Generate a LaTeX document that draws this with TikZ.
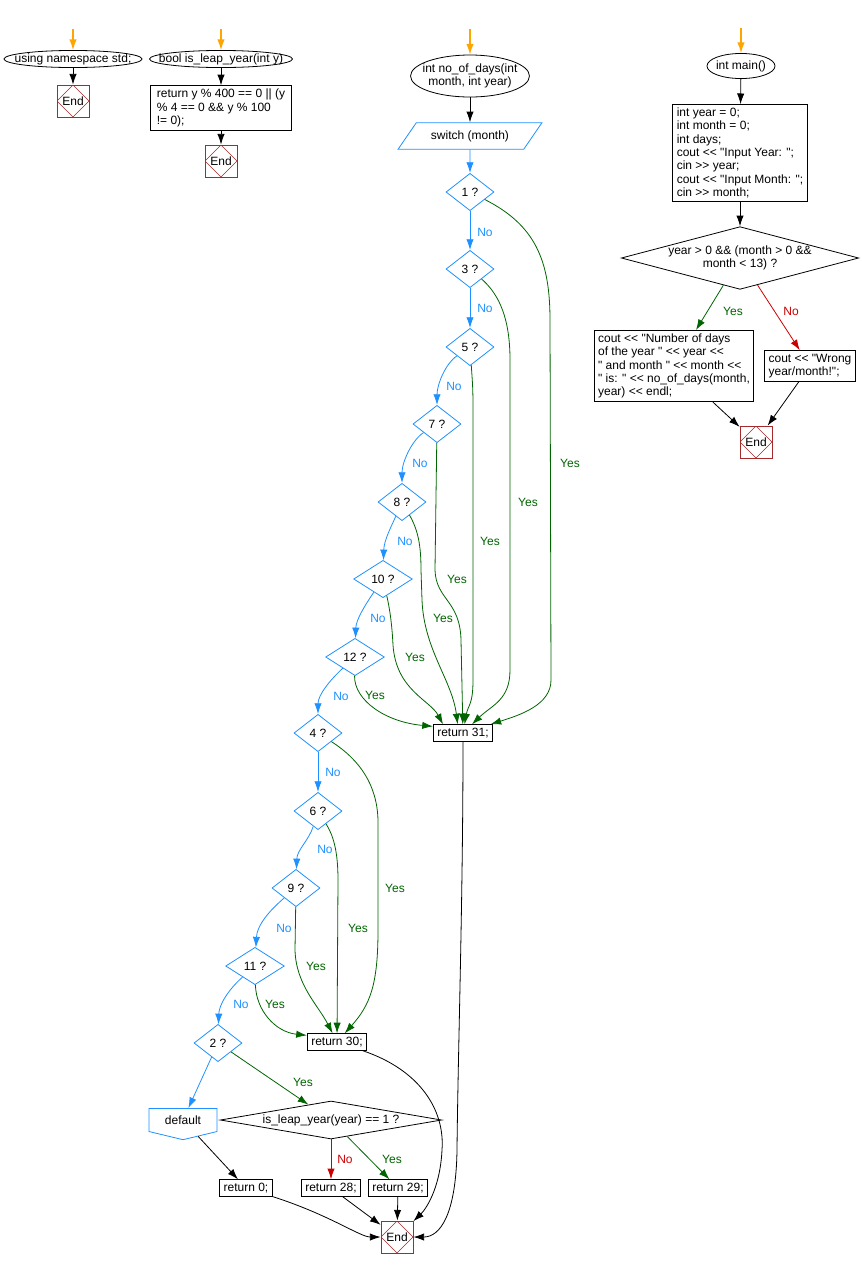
\documentclass[tikz,border=0pt]{standalone}
\usepackage{fontspec}
\setmainfont{Liberation Sans}[Ligatures=TeXOff]
\usetikzlibrary{arrows.meta,shapes.geometric,shapes.symbols}

\definecolor{noblue}{HTML}{1E90FF}
\definecolor{yesgreen}{HTML}{006400}
\definecolor{nored}{HTML}{CC0000}
\definecolor{startorange}{HTML}{FFA500}
\definecolor{endred}{HTML}{A52A2A}

\begin{document}
\begin{tikzpicture}[x=0.75pt, y=-0.75pt, line width=0.6pt,
  every node/.style={font=\fontsize{9}{10}\selectfont, inner sep=2pt},
  fn/.style={align=center},
  stmt/.style={draw, align=left, inner xsep=3pt, inner ysep=2.5pt},
  dec/.style={draw=noblue, diamond, inner sep=0pt, minimum width=36pt, minimum height=28pt},
  decwide/.style={dec, minimum width=44pt},
  cond/.style={draw, diamond, inner sep=0pt, align=center},
  endbox/.style={draw=endred, minimum size=24pt, inner sep=0pt,
    path picture={\draw[endred, line width=0.4pt] (path picture bounding box.north)
      -- (path picture bounding box.east) -- (path picture bounding box.south)
      -- (path picture bounding box.west) -- cycle;}},
  arr/.style={-{Latex[length=8pt, width=5.5pt]}},
  startarr/.style={arr, startorange, line width=0.9pt},
  noarr/.style={arr, noblue},
  yesarr/.style={arr, yesgreen},
  falsearr/.style={arr, nored},
  nolbl/.style={text=noblue, inner sep=0pt},
  yeslbl/.style={text=yesgreen, inner sep=0pt},
  falselbl/.style={text=nored, inner sep=0pt}]

  \useasboundingbox (0,0) rectangle (861,1268);

  % using namespace
  \node[fn, minimum height=12.75pt] (usingns) at (73,59) {using namespace std;};
  \draw (usingns.center) ellipse [x radius=51.75pt, y radius=6.4pt];
  \node[endbox] (end1) at (73,101) {End};

  % is_leap_year
  \node[fn, minimum height=12.75pt] (leapfn) at (221,59) {bool is\_leap\_year(int y)};
  \draw (leapfn.center) ellipse [x radius=53.6pt, y radius=6.4pt];
  \node[stmt, minimum width=106pt] (leapbody) at (221,108)
    {return y \% 400 == 0 || (y\\\% 4 == 0 \&\& y \% 100\\!= 0);};
  \node[endbox] (end2) at (221,161) {End};

  % no_of_days
  \node[fn, minimum height=31.5pt] (daysfn) at (470,76) {int no\_of\_days(int\\month, int year)};
  \draw (daysfn.center) ellipse [x radius=44.6pt, y radius=15.75pt];
  \node[draw=noblue, trapezium, trapezium left angle=42, trapezium right angle=138,
    trapezium stretches body, minimum height=20pt, minimum width=108pt] (switch) at (470,136) {switch (month)};

  \node[dec] (d1) at (470,192) {1 ?};
  \node[dec] (d3) at (470,269) {3 ?};
  \node[dec] (d5) at (470,347) {5 ?};
  \node[dec] (d7) at (437,424) {7 ?};
  \node[dec] (d8) at (402,502) {8 ?};
  \node[decwide] (d10) at (383,579) {10 ?};
  \node[decwide] (d12) at (355,657) {12 ?};
  \node[dec] (d4) at (318,733) {4 ?};
  \node[dec] (d6) at (318,811) {6 ?};
  \node[dec] (d9) at (296,888) {9 ?};
  \node[decwide] (d11) at (255,966) {11 ?};
  \node[dec] (d2) at (218,1043) {2 ?};

  \node[stmt] (r31) at (463,733) {return 31;};
  \node[stmt] (r30) at (337,1042) {return 30;};
  \node[draw=noblue, signal, signal to=south, signal from=nowhere, signal pointer angle=153,
    minimum width=51pt, minimum height=21pt] (default) at (183,1120) {default};
  \node[cond, minimum width=166pt, minimum height=28.5pt, aspect=5.8] (leap) at (331,1120)
    {is\_leap\_year(year) == 1 ?};
  \node[stmt] (r0) at (246,1188) {return 0;};
  \node[stmt] (r28) at (331,1188) {return 28;};
  \node[stmt] (r29) at (398,1188) {return 29;};
  \node[endbox] (end3) at (397,1237) {End};

  % main
  \node[fn, minimum height=18.75pt] (mainfn) at (741,66) {int main()};
  \draw (mainfn.center) ellipse [x radius=25.5pt, y radius=9.4pt];
  \node[stmt] (mainbox) at (740,153) {int year = 0;\\int month = 0;\\int days;\\cout << "Input Year: ";\\cin >> year;\\cout << "Input Month: ";\\cin >> month;};
  \node[cond, minimum width=178pt, minimum height=47pt, aspect=3.8] (maincond) at (740,258)
    {year > 0 \&\& (month > 0 \&\&\\month < 13) ?};
  \node[stmt] (yesbox) at (674,366) {cout << "Number of days\\of the year " << year <<\\" and month " << month <<\\" is: " << no\_of\_days(month,\\year) << endl;};
  \node[stmt] (nobox) at (810,366) {cout << "Wrong\\year/month!";};
  \node[endbox] (end4) at (756,442) {End};

  % start arrows
  \coordinate (go1) at (73,29);
  \coordinate (go2) at (221,29);
  \coordinate (go3) at (470,29);
  \coordinate (go4) at (741,28);
  \draw[startarr] (go1) -- (usingns);
  \draw[startarr] (go2) -- (leapfn);
  \draw[startarr] (go3) -- (daysfn);
  \draw[startarr] (go4) -- (mainfn);

  \draw[arr] (usingns) -- (end1);
  \draw[arr] (leapfn) -- (leapbody);
  \draw[arr] (leapbody) -- (end2);
  \draw[arr] (daysfn) -- (switch);
  \draw[noarr] (switch) -- (d1);

  % the No chain
  \draw[noarr] (d1) -- (d3);
  \draw[noarr] (d3) -- (d5);
  \draw[noarr] (d5) .. controls (445,364) and (437,385) .. (d7);
  \draw[noarr] (d7) .. controls (412,440) and (402,462) .. (d8);
  \draw[noarr] (d8) .. controls (392,525) and (384,540) .. (d10);
  \draw[noarr] (d10) .. controls (365,605) and (356,620) .. (d12);
  \draw[noarr] (d12) .. controls (330,680) and (318,695) .. (d4);
  \draw[noarr] (d4) -- (d6);
  \draw[noarr] (d6) .. controls (309,840) and (297,850) .. (d9);
  \draw[noarr] (d9) .. controls (270,910) and (257,925) .. (d11);
  \draw[noarr] (d11) .. controls (228,990) and (219,1005) .. (d2);
  \draw[noarr] (d2) -- (default);

  % the Yes branches
  \draw[yesarr] (d1) .. controls (535,225) and (550,260) .. (550,320) -- (551,680)
    .. controls (551,705) and (520,715) .. (r31);
  \draw[yesarr] (d3) .. controls (500,295) and (510,320) .. (510,360) -- (510,670)
    .. controls (510,700) and (492,705) .. (r31);
  \draw[yesarr] (d5) .. controls (473,390) .. (473,420) -- (473,680)
    .. controls (473,705) and (468,705) .. (r31);
  \draw[yesarr] (d7) -- (435,570) .. controls (436,600) and (460,600) .. (461,640) -- (r31);
  \draw[yesarr] (d8) .. controls (418,530) and (421,545) .. (421,570) -- (422,600)
    .. controls (424,650) and (452,680) .. ([xshift=-4pt]r31.north);
  \draw[yesarr] (d10) .. controls (390,610) and (392,625) .. (393,645)
    .. controls (396,690) and (430,700) .. ([xshift=-15pt]r31.north);
  \draw[yesarr] (d12) .. controls (354,700) and (385,722) .. ([yshift=5pt]r31.west);

  \draw[yesarr] (d4) .. controls (360,760) and (377,785) .. (378,820) -- (378,930)
    .. controls (378,985) and (370,1005) .. (r30);
  \draw[yesarr] (d6) .. controls (333,835) and (338,850) .. (338,880) -- (r30);
  \draw[yesarr] (d9) -- (295,950) .. controls (296,985) and (318,1005) .. (r30);
  \draw[yesarr] (d11) .. controls (256,1010) and (275,1032) .. ([yshift=5pt]r30.west);
  \draw[yesarr] (d2) -- (leap);

  \draw[falsearr] (leap) -- (r28);
  \draw[yesarr] (leap) -- (r29);
  \draw[arr] (default) -- (r0);

  % to the last End
  \draw[arr] (r0) .. controls (330,1215) and (360,1237) .. (end3.west);
  \draw[arr] (r28) -- (end3);
  \draw[arr] (r29) -- (end3);
  \draw[arr] (r30) .. controls (420,1070) and (445,1110) .. (442,1150)
    .. controls (440,1190) and (425,1210) .. (end3);
  \draw[arr] (r31) .. controls (463,900) and (458,1050) .. (457,1150)
    .. controls (456,1215) and (440,1237) .. (end3);

  % main
  \draw[arr] (mainfn) -- (mainbox);
  \draw[arr] (mainbox) -- (maincond);
  \draw[yesarr] (maincond) -- (yesbox);
  \draw[falsearr] (maincond) -- (nobox);
  \draw[arr] (yesbox) -- (end4);
  \draw[arr] (nobox) -- (end4);

  % labels
  \foreach \x/\y/\n in {485/232/a, 485/308/b, 454/386/c, 420/463/d, 405/541/e, 378/618/f,
      341/696/g, 333/772/h, 325/849/i, 284/928/j, 241/1004/k}
    \node[nolbl] (no\n) at (\x,\y) {No};
  \foreach \x/\y/\n in {570/463/a, 528/502/b, 490/541/c, 457/579/d, 443/618/e, 415/657/f,
      375/695/g, 395/888/h, 358/928/i, 316/966/j, 275/1004/k, 303/1082/l, 392/1159/m, 733/311/n}
    \node[yeslbl] (yes\n) at (\x,\y) {Yes};
  \node[falselbl] (nol) at (345,1159) {No};
  \node[falselbl] (nom) at (791,311) {No};
\end{tikzpicture}
\end{document}
